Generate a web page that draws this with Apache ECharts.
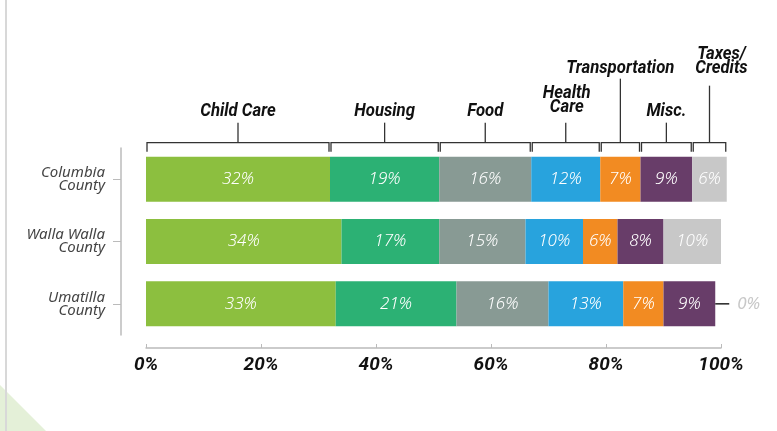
<!DOCTYPE html>
<html>
<head>
<meta charset="utf-8">
<script src="https://cdn.jsdelivr.net/npm/echarts@6/dist/echarts.min.js"></script>
<style>
  html, body { margin: 0; padding: 0; background: #fff; }
  #chart { width: 777px; height: 431px; }
</style>
</head>
<body>
<div id="chart"></div>
<script>
  // counties, top to bottom
  const counties = ["Columbia\nCounty", "Walla Walla\nCounty", "Umatilla\nCounty"]
  const costNames = ["Child Care", "Housing", "Food", "Health\nCare", "Transportation", "Misc.", "Taxes/\nCredits"]

  // share of budget (%) per cost, in county order
  const childCare = [32, 34, 33]
  const housing = [19, 17, 21]
  const food = [16, 15, 16]
  const healthCare = [12, 10, 13]
  const transportation = [7, 6, 7]
  const misc = [9, 8, 9]
  const taxes = [6, 10, 0]

  const xTicks = [0, 20, 40, 60, 80, 100]

  const colors = ["#8cbf3f", "#2cb174", "#889a94", "#28a3dd", "#f28b22", "#683d69", "#c8c8c8"]
  const seriesValues = [childCare, housing, food, healthCare, transportation, misc, taxes]

  const headFont = "Roboto, 'Noto Sans', sans-serif"
  const bodyFont = "'Noto Sans', sans-serif"

  // bracket stems over the first bar: stem rise, gap to text, text shift
  const rise = [20, 20, 20, 20, 64, 20, 57]
  const gap = [4, 4, 4, 8, 3, 4, 10]
  const dx = [0, 0, 0, 1, 0, 0, 12]

  let brackets = []
  let acc = 0
  seriesValues.forEach((vals, i) => {
    brackets.push([acc, acc + vals[0], 0, i])
    acc += vals[0]
  })

  // leaders for zero-width segments: [stack position, county index]
  let leaders = []
  counties.forEach((c, k) => {
    let sum = 0
    seriesValues.forEach(vals => {
      sum += vals[k]
      if (vals[k] === 0) leaders.push([sum, k])
    })
  })

  const barSeries = seriesValues.map((vals, i) => {
    return {
      name: costNames[i].replace("\n", " "),
      type: "bar",
      stack: "total",
      barWidth: 45,
      clip: false,
      itemStyle: { color: colors[i] },
      label: {
        show: true,
        position: "inside",
        formatter: "{c}%",
        color: "#fff",
        fontSize: 17,
        fontStyle: "italic",
        fontWeight: 300,
        fontFamily: bodyFont
      },
      data: vals.map(v => {
        if (v > 0) return v
        return {
          value: v,
          label: { position: "right", distance: 22, color: "#c8c8c8", fontWeight: "normal" }
        }
      })
    }
  })

  const leaderSeries = {
    type: "custom",
    silent: true,
    clip: false,
    z: 10,
    encode: { x: 0, y: 1 },
    data: leaders,
    renderItem: function (params, api) {
      const p = api.coord([api.value(0), api.value(1)])
      return {
        type: "line",
        shape: { x1: p[0], y1: p[1], x2: p[0] + 14, y2: p[1] },
        style: { stroke: "#222", lineWidth: 1.5 }
      }
    }
  }

  const bracketSeries = {
    type: "custom",
    silent: true,
    clip: false,
    z: 10,
    encode: { x: [0, 1], y: 2 },
    data: brackets,
    renderItem: function (params, api) {
      const i = api.value(3)
      const p0 = api.coord([api.value(0), api.value(2)])
      const p1 = api.coord([api.value(1), api.value(2)])
      const barTop = p0[1] - 22.5
      const yLine = barTop - 14
      const yEnd = barTop - 5
      const xm = (p0[0] + p1[0]) / 2
      const lineStyle = { stroke: "#333", lineWidth: 1.3 }
      const x0 = p0[0] + 1
      const x1 = p1[0] - 1
      return {
        type: "group",
        children: [
          { type: "polyline", shape: { points: [[x0, yEnd], [x0, yLine], [x1, yLine], [x1, yEnd]] }, style: Object.assign({ fill: null }, lineStyle) },
          { type: "line", shape: { x1: xm, y1: yLine, x2: xm, y2: yLine - rise[i] }, style: lineStyle },
          {
            type: "text",
            x: xm + dx[i],
            y: yLine - rise[i] - gap[i],
            scaleX: 0.88,
            style: {
              text: costNames[i],
              x: 0,
              y: 0,
              align: "center",
              verticalAlign: "bottom",
              lineHeight: 14,
              fill: "#111",
              font: "italic bold 19px " + headFont
            }
          }
        ]
      }
    }
  }

  const chart = echarts.init(document.getElementById("chart"))
  chart.setOption({
    backgroundColor: "#fff",
    animation: false,
    graphic: [
      { type: "polygon", shape: { points: [[0, 385], [46, 431], [0, 431]] }, style: { fill: "#e4f0d8" }, z: -1 },
      { type: "line", shape: { x1: 6, y1: 0, x2: 6, y2: 431 }, style: { stroke: "#d8d8d8", lineWidth: 2 } }
    ],
    grid: { left: 146, right: 56, top: 148, bottom: 96 },
    xAxis: {
      type: "value",
      min: xTicks[0],
      max: xTicks[xTicks.length - 1],
      interval: xTicks[1] - xTicks[0],
      offset: 13,
      splitLine: { show: false },
      axisLine: { show: true, lineStyle: { color: "#bbb", width: 1.5 } },
      axisTick: { show: true, inside: true, length: 4, lineStyle: { color: "#bbb" } },
      axisLabel: {
        formatter: "{value}%",
        margin: 8,
        color: "#111",
        fontSize: 19,
        fontStyle: "italic",
        fontWeight: "bold",
        fontFamily: headFont
      }
    },
    yAxis: {
      type: "category",
      inverse: true,
      data: counties,
      offset: 25,
      axisLine: { show: true, onZero: false, lineStyle: { color: "#bbb", width: 1.5 } },
      axisTick: { show: true, length: 8, alignWithLabel: true, lineStyle: { color: "#bbb" } },
      axisLabel: {
        margin: 16,
        align: "right",
        color: "#444",
        fontSize: 15,
        lineHeight: 13,
        fontStyle: "italic",
        fontFamily: bodyFont
      }
    },
    series: [...barSeries, bracketSeries, leaderSeries]
  })
</script>
</body>
</html>
